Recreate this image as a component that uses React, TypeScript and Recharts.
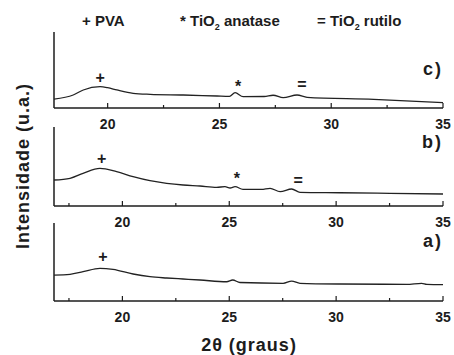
import { LineChart, Line, XAxis, YAxis, ReferenceDot, ReferenceLine } from 'recharts';

const FONT = '"Liberation Sans", Arial, Helvetica, sans-serif';
const INK = '#1c1c1c';

// c) top panel
const cTheta = [17.6, 18.46, 18.91, 19.66, 20.0, 20.41, 21.14, 21.9, 23.38, 24.89, 25.45, 25.7, 26.06, 27.0, 27.4, 27.85, 28.47, 28.92, 31.9, 35.0];
const cIntensity = [11.8, 17.1, 23.7, 28.0, 26.7, 23.7, 19.3, 18.0, 17.1, 15.8, 15.4, 20.1, 14.9, 15.1, 16.8, 13.6, 17.1, 14.1, 11.4, 7.0];
const cMarkTheta = [19.66, 25.83, 28.69];
const cMarkY = [40.8, 28.9, 31.6];

// b) middle panel
const bTheta = [16.8, 17.55, 18.16, 18.95, 19.73, 20.5, 21.29, 22.07, 22.84, 23.63, 24.41, 24.8, 25.04, 25.27, 25.64, 26.5, 26.91, 27.38, 27.92, 28.31, 30.18, 32.52, 35.0];
const bIntensity = [32.9, 35.1, 41.4, 47.7, 43.4, 37.1, 32.0, 28.7, 26.6, 25.3, 23.7, 24.4, 22.8, 24.4, 21.1, 21.0, 22.4, 18.1, 21.5, 17.3, 16.8, 16.1, 15.2];
const bMarkTheta = [19.03, 25.35, 28.22];
const bMarkY = [60.4, 35.4, 32.0];

// a) bottom panel
const aTheta = [16.8, 17.55, 18.16, 18.95, 19.56, 20.5, 21.29, 22.07, 22.84, 23.63, 24.88, 25.16, 25.5, 27.52, 27.92, 28.31, 30.18, 33.3, 34.0, 34.24, 35.0];
const aIntensity = [33.3, 34.2, 37.6, 41.9, 40.6, 34.6, 31.2, 29.5, 28.2, 26.9, 24.7, 26.9, 23.7, 22.7, 25.6, 22.7, 21.8, 21.4, 22.7, 21.4, 20.9];
const aMarkTheta = [19.09];
const aMarkY = [56.8];

const markSymbols = ['+', '*', '='];
const ticksC = [20, 22.5, 25, 27.5, 30, 32.5, 35];
const ticksAB = [17.5, 20, 22.5, 25, 27.5, 30, 32.5, 35];

function Tick({ x, y, payload }: any) {
  const v = payload.value;
  const major = v % 5 === 0;
  return (
    <g>
      <line x1={x} x2={x} y1={y} y2={y - (major ? 5 : 3)} stroke={INK} strokeWidth={1.2} />
      {major && (
        <text x={x} y={y + 21} textAnchor="middle" fontSize={14} fontWeight="bold" fontFamily={FONT} fill={INK}>
          {v}
        </text>
      )}
    </g>
  );
}

interface PanelProps {
  theta: number[];
  intensity: number[];
  markTheta: number[];
  markY: number[];
  domain: [number, number];
  ticks: number[];
  top: number;
  height: number;
  marginTop: number;
}

function Panel({ theta, intensity, markTheta, markY, domain, ticks, top, height, marginTop }: PanelProps) {
  const data = theta.map((t, i) => ({ t, v: intensity[i] }));
  return (
    <div style={{ position: 'absolute', left: 0, top }}>
      <LineChart width={454} height={height} data={data} margin={{ top: marginTop, right: 11, left: 54, bottom: 0 }}>
        <XAxis
          dataKey="t"
          type="number"
          domain={domain}
          ticks={ticks}
          interval={0}
          allowDataOverflow
          height={24}
          tickSize={0}
          tickMargin={0}
          tickLine={false}
          tick={<Tick />}
          axisLine={false}
        />
        <YAxis type="number" domain={[0, 100]} width={0} tick={false} tickLine={false} axisLine={false} />
        <ReferenceLine y={0} stroke={INK} strokeWidth={1.5} ifOverflow="visible" />
        <ReferenceLine x={domain[0]} stroke={INK} strokeWidth={1.5} ifOverflow="visible" />
        <Line type="monotone" dataKey="v" stroke="#222" strokeWidth={1.3} dot={false} isAnimationActive={false} />
        {markTheta.map((m, i) => (
          <ReferenceDot
            key={i}
            x={m}
            y={markY[i]}
            r={0}
            shape={(p: any) => (
              <text x={p.cx} y={p.cy} dy="0.35em" textAnchor="middle" fontSize={16} fontWeight="bold" fontFamily={FONT} fill={INK}>
                {markSymbols[i]}
              </text>
            )}
          />
        ))}
      </LineChart>
    </div>
  );
}

const textStyle: React.CSSProperties = {
  position: 'absolute',
  fontFamily: FONT,
  fontWeight: 'bold',
  color: INK,
  whiteSpace: 'nowrap',
  lineHeight: 1,
};

export default function App() {
  return (
    <div style={{ position: 'absolute', left: 0, top: 0, width: 454, height: 355, background: '#fff', overflow: 'hidden' }}>
      <Panel theta={cTheta} intensity={cIntensity} markTheta={cMarkTheta} markY={cMarkY} domain={[17.6, 35]} ticks={ticksC} top={0} height={132} marginTop={32} />
      <Panel theta={bTheta} intensity={bIntensity} markTheta={bMarkTheta} markY={bMarkY} domain={[16.8, 35]} ticks={ticksAB} top={110} height={120} marginTop={17} />
      <Panel theta={aTheta} intensity={aIntensity} markTheta={aMarkTheta} markY={aMarkY} domain={[16.8, 35]} ticks={ticksAB} top={210} height={115} marginTop={13} />

      <div style={{ ...textStyle, left: 82, top: 13, fontSize: 15 }}>+ PVA</div>
      <div style={{ ...textStyle, left: 180, top: 13, fontSize: 15 }}>
        * TiO<span style={{ fontSize: 9, verticalAlign: -4 }}>2</span> anatase
      </div>
      <div style={{ ...textStyle, left: 317, top: 13, fontSize: 15 }}>
        = TiO<span style={{ fontSize: 9, verticalAlign: -4 }}>2</span> rutilo
      </div>

      <div style={{ ...textStyle, right: 11, top: 60, fontSize: 18, letterSpacing: 2 }}>c)</div>
      <div style={{ ...textStyle, right: 11, top: 133, fontSize: 18, letterSpacing: 2 }}>b)</div>
      <div style={{ ...textStyle, right: 11, top: 232, fontSize: 18, letterSpacing: 2 }}>a)</div>

      <div
        style={{
          ...textStyle,
          left: 23,
          top: 166,
          fontSize: 18,
          letterSpacing: 1,
          transform: 'translate(-50%, -50%) rotate(-90deg)',
        }}
      >
        Intensidade (u.a.)
      </div>
      <div style={{ ...textStyle, left: 249, top: 345, fontSize: 18, letterSpacing: 1, transform: 'translate(-50%, -50%)' }}>
        2θ (graus)
      </div>
    </div>
  );
}
